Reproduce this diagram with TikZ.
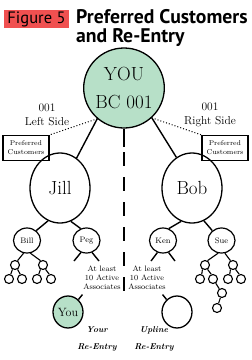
\documentclass[tikz,border=0pt]{standalone}
\usepackage{fontspec}
\newfontfamily\headfont{PT Sans}
\usepackage{tikz}
\usetikzlibrary{
  positioning,
  shapes.geometric
}
\definecolor{yougreen}{RGB}{183,224,200}
\definecolor{figred}{RGB}{240,80,80}
\tikzset{
  member/.style={ellipse,draw,line width=1.3pt,inner sep=0pt,align=center},
  bigmember/.style={member,minimum width=70pt,minimum height=80pt,font=\fontsize{19}{28}\selectfont},
  midmember/.style={member,minimum width=60pt,minimum height=70pt,font=\fontsize{19}{22}\selectfont},
  smallmember/.style={member,line width=1.2pt,minimum width=27pt,minimum height=25pt,font=\fontsize{8}{9}\selectfont},
  reentry/.style={member,minimum width=30pt,minimum height=32pt,font=\fontsize{12}{14}\selectfont},
  dot/.style={circle,draw,line width=1.1pt,minimum size=9pt,inner sep=0pt},
  prefbox/.style={draw,line width=1.2pt,align=center,minimum width=46pt,minimum height=25pt,inner sep=1pt,font=\fontsize{7}{9}\selectfont},
  sidelabel/.style={align=center,inner sep=0pt,font=\fontsize{11.5}{14}\selectfont},
  notelabel/.style={align=center,inner sep=0pt,font=\fontsize{7.8}{9}\selectfont},
  entrylabel/.style={align=center,inner sep=0pt,font=\fontsize{8.5}{17}\selectfont\bfseries\itshape},
  figbox/.style={fill=figred,minimum width=65pt,minimum height=18pt,inner sep=0pt,font=\headfont\fontsize{16.5}{18}\selectfont},
  headline/.style={inner sep=0pt,font=\headfont\bfseries\fontsize{19.7}{21}\selectfont},
  link/.style={line width=1.4pt},
  twig/.style={line width=1.1pt},
  feed/.style={line width=1pt,dotted}
}

\begin{document}
\begin{tikzpicture}[x=1pt,y=-1pt]
	\useasboundingbox (0,0) rectangle (252,360);
	\node[figbox] (fig) at (36.5,19) {Figure 5};
	\node[headline,anchor=base west] (headA) at (76,23) {Preferred Customers};
	\node[headline,anchor=base west] (headB) at (76,42) {and Re-Entry};
	\node[bigmember,fill=yougreen] (you) at (124,88) {YOU\\BC 001};
	\node[sidelabel] (leftside) at (47,115) {001\\Left Side};
	\node[sidelabel] (rightside) at (210,115) {001\\Right Side};
	\node[prefbox] (prefL) at (26,148) {Preferred\\Customers};
	\node[prefbox] (prefR) at (225,148) {Preferred\\Customers};
	\node[midmember] (jill) at (60,188) {Jill};
	\node[midmember] (bob) at (192,188) {Bob};
	\node[smallmember] (bill) at (27,240.5) {Bill};
	\node[smallmember] (peg) at (86.5,240.5) {Peg};
	\node[smallmember] (ken) at (163,240.5) {Ken};
	\node[smallmember] (sue) at (221.5,240.5) {Sue};
	\node[dot] (billA) at (15,265) {};
	\node[dot] (billB) at (43,265) {};
	\node[dot] (billAA) at (9,279) {};
	\node[dot] (billAB) at (22,279) {};
	\node[dot] (billBA) at (37,279) {};
	\node[dot] (billBB) at (51,279) {};
	\node[dot] (sueA) at (205,265) {};
	\node[dot] (sueB) at (233,265) {};
	\node[dot] (sueAA) at (200,279) {};
	\node[dot] (sueAB) at (213,279) {};
	\node[dot] (sueBA) at (228,279) {};
	\node[dot] (sueBB) at (241,279) {};
	\node[dot] (sueABA) at (222,293) {};
	\node[dot] (sueABAA) at (217,308) {};
	\node[notelabel] (noteL) at (102,278) {At least\\10 Active\\Associates};
	\node[notelabel] (noteR) at (147,278) {At least\\10 Active\\Associates};
	\node[reentry,fill=yougreen] (yourentry) at (68,312) {You};
	\node[reentry] (uplentry) at (177,312) {};
	\node[entrylabel] (yourlabel) at (97,338.5) {Your\\Re-Entry};
	\node[entrylabel] (upllabel) at (154,338.5) {Upline\\Re-Entry};
	\coordinate (splitEnd) at (124,147);
	\coordinate (dashTop) at (124,152);
	\coordinate (dashEnd) at (124,291);
	\coordinate (pegLegL) at (74,261);
	\coordinate (pegLegR) at (99,261);
	\coordinate (kenLegL) at (151,261);
	\coordinate (kenLegR) at (175,261);
	\draw[feed] (you.-131) -- (prefL.north east);
	\draw[feed] (you.-47) -- (prefR.north west);
	\draw[link] (you.-131) -- (jill.61);
	\draw[link] (you.-47) -- (bob.117);
	\draw[link] (you.south) -- (splitEnd);
	\draw[link,dash pattern=on 14pt off 11pt] (dashTop) -- (dashEnd);
	\draw[link] (jill.-110) -- (bill.47);
	\draw[link] (jill.-72) -- (peg.116);
	\draw[link] (bob.-108) -- (ken.64);
	\draw[link] (bob.-70) -- (sue.133);
	\draw[link] (peg.-115) -- (pegLegL);
	\draw[link] (peg.-65) -- (pegLegR);
	\draw[link] (ken.-115) -- (kenLegL);
	\draw[link] (ken.-65) -- (kenLegR);
	\draw[twig] (bill.-105) -- (billA.60);
	\draw[twig] (bill.-75) -- (billB.120);
	\draw[twig] (billA.-120) -- (billAA.70);
	\draw[twig] (billA.-60) -- (billAB.110);
	\draw[twig] (billB.-120) -- (billBA.70);
	\draw[twig] (billB.-60) -- (billBB.110);
	\draw[twig] (sue.-105) -- (sueA.60);
	\draw[twig] (sue.-75) -- (sueB.120);
	\draw[twig] (sueA.-120) -- (sueAA.70);
	\draw[twig] (sueA.-60) -- (sueAB.110);
	\draw[twig] (sueB.-120) -- (sueBA.70);
	\draw[twig] (sueB.-60) -- (sueBB.110);
	\draw[twig] (sueAB) -- (sueABA);
	\draw[twig] (sueABA) -- (sueABAA);
	\draw[link] (yourentry.50) -- ++(4,-5);
	\draw[link] (uplentry.130) -- ++(-4,-5);
\end{tikzpicture}
\end{document}
